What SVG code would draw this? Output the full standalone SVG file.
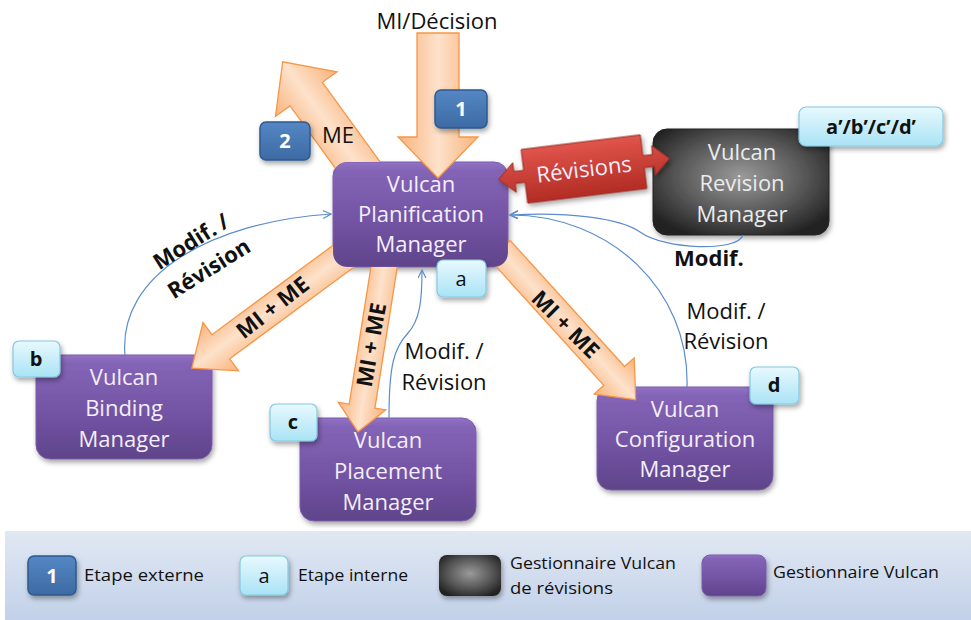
<svg xmlns="http://www.w3.org/2000/svg" width="971" height="620" viewBox="0 0 971 620">
<defs>
<style>
.nt{font-family:"Open Sans","Liberation Sans",sans-serif;font-size:22px;fill:#f4eefb;text-anchor:middle}
.rt{font-family:"Open Sans","Liberation Sans",sans-serif;font-size:22px;fill:#ececec;text-anchor:middle}
.lbl{font-family:"Open Sans","Liberation Sans",sans-serif;font-size:22px;fill:#111;text-anchor:middle}
.b{font-weight:bold}
.bt{font-family:"Open Sans","Liberation Sans",sans-serif;font-size:20px;text-anchor:middle}
.leg{font-family:"Open Sans","Liberation Sans",sans-serif;font-size:17px;fill:#111}
.pm{fill:url(#gPurple);stroke:#7b5cab;stroke-width:1;filter:url(#sh)}
.cy{fill:url(#gCyan);stroke:#86c9e0;stroke-width:1.2;filter:url(#sh)}
.bl{fill:url(#gBlue);stroke:#2d5a8e;stroke-width:1.5;filter:url(#sh)}
.oa{fill:url(#gOrange);stroke:#f79646;stroke-width:1.3}
.cv{fill:none;stroke:#5b8ccc;stroke-width:1.2;marker-end:url(#open)}
</style>
<filter id="sh" x="-20%" y="-20%" width="150%" height="150%">
<feDropShadow dx="1.5" dy="3" stdDeviation="2.5" flood-color="#000" flood-opacity="0.35"/>
</filter>
<linearGradient id="gPurple" x1="0" y1="0" x2="0" y2="1">
<stop offset="0" stop-color="#9272c4"/><stop offset="0.08" stop-color="#8464b6"/><stop offset="0.6" stop-color="#7152a2"/><stop offset="1" stop-color="#5f448a"/>
</linearGradient>
<linearGradient id="gCyan" x1="0" y1="0" x2="0" y2="1">
<stop offset="0" stop-color="#e8f9fe"/><stop offset="1" stop-color="#a9e3f5"/>
</linearGradient>
<linearGradient id="gBlue" x1="0" y1="0" x2="0" y2="1">
<stop offset="0" stop-color="#5487c4"/><stop offset="1" stop-color="#3d6aa3"/>
</linearGradient>
<linearGradient id="gOrange" x1="0" y1="0" x2="0" y2="1">
<stop offset="0" stop-color="#f9b27a"/><stop offset="0.5" stop-color="#fde2cb"/><stop offset="1" stop-color="#f9b27a"/>
</linearGradient>
<linearGradient id="gRed" x1="0" y1="0" x2="0" y2="1">
<stop offset="0" stop-color="#e0554c"/><stop offset="1" stop-color="#b22c24"/>
</linearGradient>
<radialGradient id="gGray" cx="0.5" cy="0.45" r="0.62">
<stop offset="0" stop-color="#9a9a9a"/><stop offset="0.6" stop-color="#555555"/><stop offset="1" stop-color="#222222"/>
</radialGradient>
<linearGradient id="gBand" x1="0" y1="0" x2="0" y2="1">
<stop offset="0" stop-color="#e1e8f3"/><stop offset="1" stop-color="#c2d1e9"/>
</linearGradient>
<marker id="open" markerWidth="10" markerHeight="10" refX="8" refY="4" orient="auto" markerUnits="userSpaceOnUse">
<path d="M0,0 L8,4 L0,8" fill="none" stroke="#5b8ccc" stroke-width="1.2"/>
</marker>
<clipPath id="outPlan">
<path clip-rule="evenodd" d="M0,0H971V620H0Z M347,162H494A14,14 0 0 1 508,176V253A14,14 0 0 1 494,267H347A14,14 0 0 1 333,253V176A14,14 0 0 1 347,162Z"/>
</clipPath>
</defs>

<rect x="0" y="0" width="971" height="620" fill="#ffffff"/>

<g id="legend">
<rect x="5" y="531" width="966" height="89" fill="url(#gBand)"/>
<rect x="28" y="556" width="48" height="39" rx="6" class="bl"/>
<text x="52" y="583" class="bt b" fill="#fff">1</text>
<text x="84" y="581" class="leg" textLength="120" lengthAdjust="spacingAndGlyphs">Etape externe</text>
<rect x="240" y="556" width="48" height="39" rx="6" class="cy"/>
<text x="264" y="583" class="bt" fill="#111">a</text>
<text x="298" y="581" class="leg" textLength="110" lengthAdjust="spacingAndGlyphs">Etape interne</text>
<rect x="439" y="555" width="62" height="41" rx="8" fill="url(#gGray)" filter="url(#sh)"/>
<text x="510" y="569" class="leg" textLength="166" lengthAdjust="spacingAndGlyphs">Gestionnaire Vulcan</text>
<text x="510" y="594" class="leg" textLength="103" lengthAdjust="spacingAndGlyphs">de révisions</text>
<rect x="702" y="555" width="64" height="41" rx="8" class="pm"/>
<text x="773" y="578" class="leg" textLength="166" lengthAdjust="spacingAndGlyphs">Gestionnaire Vulcan</text>
</g>

<g id="plan">
<rect x="333" y="162" width="175" height="105" rx="14" class="pm"/>
<text x="421" y="192" class="nt">Vulcan</text>
<text x="421" y="222" class="nt">Planification</text>
<text x="421" y="252" class="nt">Manager</text>
<rect x="437" y="260" width="49" height="37" rx="6" class="cy"/>
<text x="461" y="286" class="bt" fill="#111">a</text>
</g>

<g id="revision">
<rect x="653" y="129" width="176" height="106" rx="14" fill="url(#gGray)" stroke="#222" stroke-width="1" filter="url(#sh)"/>
<text x="742" y="160" class="rt">Vulcan</text>
<text x="742" y="191" class="rt">Revision</text>
<text x="742" y="222" class="rt">Manager</text>
<rect x="799" y="107" width="144" height="39" rx="7" class="cy"/>
<text x="871" y="134" class="bt b" fill="#111">a’/b’/c’/d’</text>
</g>

<g id="binding">
<rect x="36" y="355" width="176" height="104" rx="14" class="pm"/>
<text x="124" y="385" class="nt">Vulcan</text>
<text x="124" y="416" class="nt">Binding</text>
<text x="124" y="447" class="nt">Manager</text>
<rect x="13" y="341" width="47" height="36" rx="6" class="cy"/>
<text x="36" y="366" class="bt b" fill="#111">b</text>
</g>

<g id="placement">
<rect x="300" y="418" width="176" height="103" rx="14" class="pm"/>
<text x="388" y="448" class="nt">Vulcan</text>
<text x="388" y="479" class="nt">Placement</text>
<text x="388" y="510" class="nt">Manager</text>
<rect x="270" y="404" width="47" height="37" rx="6" class="cy"/>
<text x="293" y="429" class="bt b" fill="#111">c</text>
</g>

<g id="configuration">
<rect x="597" y="387" width="176" height="103" rx="14" class="pm"/>
<text x="685" y="417" class="nt">Vulcan</text>
<text x="685" y="447" class="nt">Configuration</text>
<text x="685" y="477" class="nt">Manager</text>
<rect x="750" y="367" width="49" height="37" rx="6" class="cy"/>
<text x="774" y="392" class="bt b" fill="#111">d</text>
</g>

<g id="connectors">
<g clip-path="url(#outPlan)">
<polygon class="oa" transform="translate(365,175) rotate(-126)" points="0,-20 100,-20 100,-38 140,0 100,38 100,20 0,20"/>
<polygon class="oa" transform="translate(352,250) rotate(143.6)" points="0,-15 163,-15 163,-30 199,0 163,30 163,15 0,15"/>
<polygon class="oa" transform="translate(386,255) rotate(99)" points="0,-13 153,-13 153,-24 179,0 153,24 153,13 0,13"/>
<polygon class="oa" transform="translate(500,250) rotate(47.8)" points="0,-14 170,-14 170,-27 202,0 170,27 170,14 0,14"/>
</g>
<polygon class="oa" transform="translate(438,33) rotate(90)" points="0,-21 104,-21 104,-40 145,0 104,40 104,21 0,21"/>
<g transform="translate(584,169) rotate(-7)">
<polygon fill="url(#gRed)" stroke="#9a2a22" stroke-width="1" filter="url(#sh)" points="-86,0 -70,-15 -70,-6 -60,-6 -60,-27 60,-27 60,-6 70,-6 70,-15 86,0 70,15 70,6 60,6 60,27 -60,27 -60,6 -70,6 -70,15"/>
<text x="0" y="8" class="nt" fill="#fff">Révisions</text>
</g>
<path class="cv" d="M125,355 C118,275 210,222 331,214"/>
<path class="cv" d="M389,418 C389,365 394,348 408,333 C420,320 422,300 422,270"/>
<path class="cv" d="M687,387 C690,290 610,215 510,215"/>
<path class="cv" d="M743,235 C738,252 665,250 640,232 C620,218 570,212 510,215"/>
<rect x="260" y="122" width="50" height="38" rx="6" class="bl"/>
<text x="285" y="148" class="bt b" fill="#fff">2</text>
<rect x="435" y="90" width="52" height="38" rx="6" class="bl"/>
<text x="461" y="116" class="bt b" fill="#fff">1</text>
<text x="437" y="29" class="lbl" font-size="23">MI/Décision</text>
<text x="338" y="143" class="lbl" font-size="23">ME</text>
<text x="709" y="266" class="lbl b">Modif.</text>
<text x="444" y="359" class="lbl">Modif. /</text>
<text x="444" y="390" class="lbl">Révision</text>
<text x="726" y="319" class="lbl">Modif. /</text>
<text x="726" y="349" class="lbl">Révision</text>
<text class="lbl b" transform="translate(195,248) rotate(-32)">Modif. /</text>
<text class="lbl b" transform="translate(213,275) rotate(-32)">Révision</text>
<text class="lbl b" transform="translate(273,308) rotate(-38)" dy="7">MI + ME</text>
<text class="lbl b" transform="translate(372,345) rotate(-80)" dy="7">MI + ME</text>
<text class="lbl b" transform="translate(565,325) rotate(45)" dy="7">MI + ME</text>
</g>
</svg>
